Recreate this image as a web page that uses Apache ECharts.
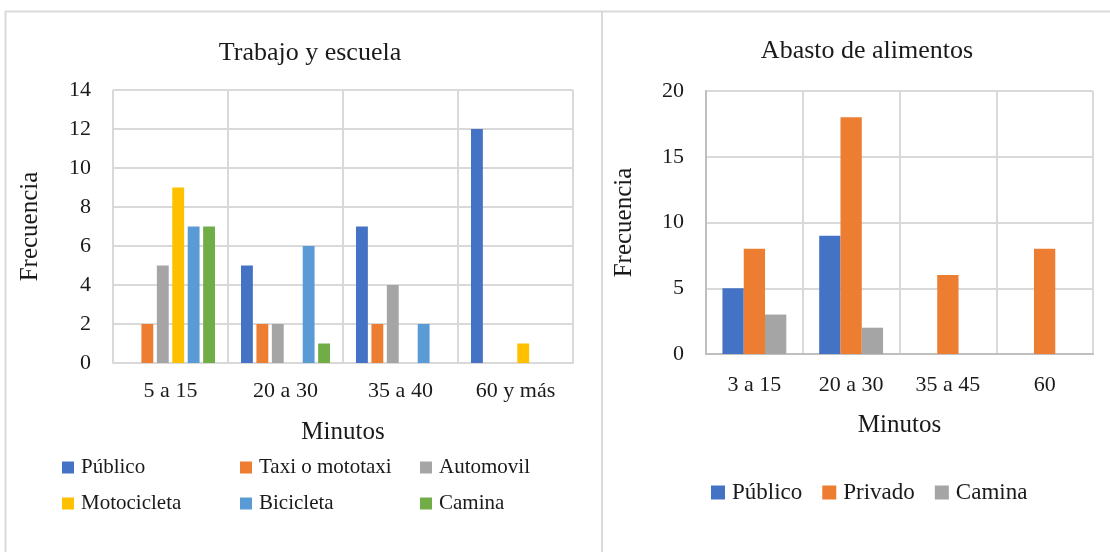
<!DOCTYPE html>
<html>
<head>
<meta charset="utf-8">
<script src="https://cdn.jsdelivr.net/npm/echarts@6/dist/echarts.min.js"></script>
<style>
  html, body { margin: 0; padding: 0; background: #fff; }
  #chart { width: 1110px; height: 552px; }
</style>
</head>
<body>
<div id="chart"></div>
<script>
// Trabajo y escuela
const workCategories = ["5 a 15", "20 a 30", "35 a 40", "60 y más"];
const workPublico = [null, 5, 7, 12];
const workTaxi = [2, 2, 2, null];
const workAuto = [5, 2, 4, null];
const workMoto = [9, null, null, 1];
const workBici = [7, 6, 2, null];
const workCamina = [7, 1, null, null];

// Abasto de alimentos
const foodCategories = ["3 a 15", "20 a 30", "35 a 45", "60"];
const foodPublico = [5, 9, null, null];
const foodPrivado = [8, 18, 6, 8];
const foodCamina = [3, 2, null, null];

const FONT = '"Liberation Serif", "DejaVu Serif", serif';
const INK = "#1a1a1a";
const GRID_LINE = "#d9d9d9";
const colors = {
  blue: "#4472C4",
  orange: "#ED7D31",
  gray: "#A5A5A5",
  yellow: "#FFC000",
  lightBlue: "#5B9BD5",
  green: "#70AD47",
};

const chart = echarts.init(document.getElementById("chart"), null, { renderer: "canvas" });

// sufijo para distinguir las series del segundo gráfico
const tag = (n) => n + " (b)";
const untag = (n) => n.replace(/ \(b\)$/, "");

const legendText = { fontFamily: FONT, color: INK, fontSize: 21, padding: [0, 0, 0, 2] };

const leftBar = (name, data, color) => ({
  name,
  type: "bar",
  xAxisIndex: 0,
  yAxisIndex: 0,
  data,
  itemStyle: { color },
  barGap: "30%",
  barCategoryGap: "22.6%",
});

const rightBar = (name, data, color) => ({
  name: tag(name),
  type: "bar",
  xAxisIndex: 1,
  yAxisIndex: 1,
  data,
  itemStyle: { color },
  barGap: "0%",
  barCategoryGap: "34%",
});

chart.setOption({
  animation: false,
  backgroundColor: "#fff",
  textStyle: { fontFamily: FONT, color: INK },
  title: [
    {
      text: "Trabajo y escuela",
      left: 305,
      top: 35,
      textAlign: "center",
      textStyle: { fontFamily: FONT, fontWeight: "normal", fontSize: 26, color: INK },
    },
    {
      text: "Abasto de alimentos",
      left: 862,
      top: 33,
      textAlign: "center",
      textStyle: { fontFamily: FONT, fontWeight: "normal", fontSize: 26, color: INK },
    },
  ],
  legend: [
    {
      left: 62, top: 457, orient: "vertical", itemGap: 15, padding: 0,
      itemWidth: 12, itemHeight: 12, icon: "rect",
      data: ["Público", "Motocicleta"], textStyle: legendText,
    },
    {
      left: 240, top: 457, orient: "vertical", itemGap: 15, padding: 0,
      itemWidth: 12, itemHeight: 12, icon: "rect",
      data: ["Taxi o mototaxi", "Bicicleta"], textStyle: legendText,
    },
    {
      left: 420, top: 457, orient: "vertical", itemGap: 15, padding: 0,
      itemWidth: 12, itemHeight: 12, icon: "rect",
      data: ["Automovil", "Camina"], textStyle: legendText,
    },
    {
      left: 711, top: 481, orient: "horizontal", itemGap: 20, padding: 0,
      itemWidth: 14, itemHeight: 14, icon: "rect",
      data: [tag("Público"), tag("Privado"), tag("Camina")],
      formatter: untag,
      textStyle: { fontFamily: FONT, color: INK, fontSize: 23, padding: [0, 0, 0, 2] },
    },
  ],
  grid: [
    { left: 113, top: 90, width: 460, height: 273 },
    { left: 706, top: 91, width: 387, height: 263 },
  ],
  xAxis: [
    {
      gridIndex: 0,
      type: "category",
      data: workCategories,
      name: "Minutos",
      nameLocation: "middle",
      nameGap: 57,
      nameTextStyle: { fontFamily: FONT, fontSize: 25, color: INK },
      axisTick: { show: false },
      axisLine: { lineStyle: { color: GRID_LINE, width: 2 } },
      axisLabel: { fontFamily: FONT, fontSize: 22, color: INK, margin: 17 },
      splitLine: { show: true, lineStyle: { color: GRID_LINE, width: 2 } },
    },
    {
      gridIndex: 1,
      type: "category",
      data: foodCategories,
      name: "Minutos",
      nameLocation: "middle",
      nameGap: 59,
      nameTextStyle: { fontFamily: FONT, fontSize: 25, color: INK },
      axisTick: { show: false },
      axisLine: { lineStyle: { color: "#bfbfbf", width: 2 } },
      axisLabel: { fontFamily: FONT, fontSize: 22, color: INK, margin: 20 },
      splitLine: { show: true, lineStyle: { color: GRID_LINE, width: 2 } },
    },
  ],
  yAxis: [
    {
      gridIndex: 0,
      type: "value",
      min: 0,
      max: 14,
      interval: 2,
      name: "Frecuencia",
      nameLocation: "middle",
      nameGap: 70,
      nameTextStyle: { fontFamily: FONT, fontSize: 25, color: INK },
      axisLine: { show: false },
      axisTick: { show: false },
      axisLabel: { fontFamily: FONT, fontSize: 22, color: INK, margin: 22 },
      splitLine: { lineStyle: { color: GRID_LINE, width: 2 } },
    },
    {
      gridIndex: 1,
      type: "value",
      min: 0,
      max: 20,
      interval: 5,
      name: "Frecuencia",
      nameLocation: "middle",
      nameGap: 69,
      nameTextStyle: { fontFamily: FONT, fontSize: 25, color: INK },
      axisLine: { show: true, lineStyle: { color: "#bfbfbf", width: 2 } },
      axisTick: { show: false },
      axisLabel: { fontFamily: FONT, fontSize: 22, color: INK, margin: 22 },
      splitLine: { lineStyle: { color: GRID_LINE, width: 2 } },
    },
  ],
  graphic: [
    // marcos de los paneles
    { type: "line", shape: { x1: 5, y1: 11.5, x2: 1110, y2: 11.5 }, style: { stroke: GRID_LINE, lineWidth: 2 } },
    { type: "line", shape: { x1: 5.5, y1: 11, x2: 5.5, y2: 552 }, style: { stroke: GRID_LINE, lineWidth: 2 } },
    { type: "line", shape: { x1: 602, y1: 11, x2: 602, y2: 552 }, style: { stroke: GRID_LINE, lineWidth: 2 } },
  ],
  series: [
    leftBar("Público", workPublico, colors.blue),
    leftBar("Taxi o mototaxi", workTaxi, colors.orange),
    leftBar("Automovil", workAuto, colors.gray),
    leftBar("Motocicleta", workMoto, colors.yellow),
    leftBar("Bicicleta", workBici, colors.lightBlue),
    leftBar("Camina", workCamina, colors.green),
    rightBar("Público", foodPublico, colors.blue),
    rightBar("Privado", foodPrivado, colors.orange),
    rightBar("Camina", foodCamina, colors.gray),
  ],
});
</script>
</body>
</html>
